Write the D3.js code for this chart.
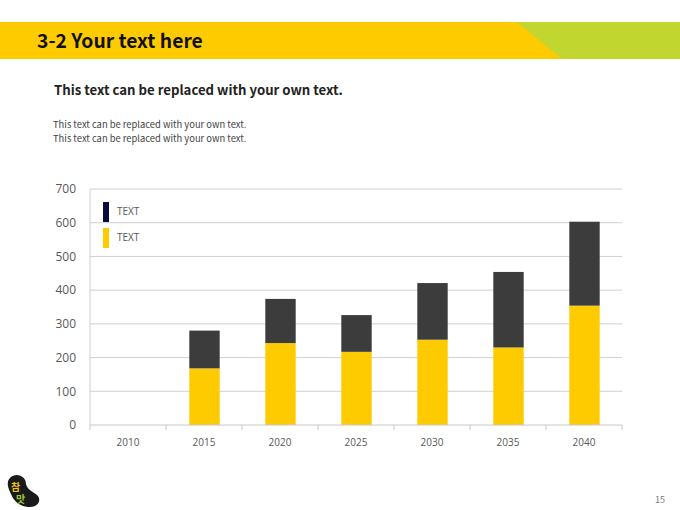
<!DOCTYPE html>
<html><head><meta charset="utf-8">
<script src="https://cdn.jsdelivr.net/npm/d3@7/dist/d3.min.js"></script>
<style>
html,body{margin:0;padding:0;background:#fff;}
svg{display:block;font-family:"Noto Sans CJK KR","Noto Sans",sans-serif;}
</style></head>
<body>
<svg id="c" width="680" height="510"></svg>
<script>
const categories = ["2010","2015","2020","2025","2030","2035","2040"];
const yellowValues = [0,168,243,217,253,230,354];
const darkValues = [0,112,131,109,168,224,249];
const seriesNames = ["TEXT","TEXT"];
const yTicks = [0,100,200,300,400,500,600,700];

const svg = d3.select("#c");

// Header banner
svg.append("rect").attr("x",0).attr("y",22).attr("width",680).attr("height",37).attr("fill","#c1d62f");
svg.append("path").attr("d","M0,22 L517,22 L562,59 L0,59 Z").attr("fill","#fecb00");
svg.append("text").attr("x",37).attr("y",48).attr("font-size",19.3).attr("font-weight","bold").attr("fill","#111").text("3-2 Your text here");

svg.append("text").attr("x",54).attr("y",95).attr("font-size",13.2).attr("font-weight","bold").attr("fill","#222").text("This text can be replaced with your own text.");
svg.append("text").attr("x",53).attr("y",128).attr("font-size",9.4).attr("fill","#444").text("This text can be replaced with your own text.");
svg.append("text").attr("x",53).attr("y",142).attr("font-size",9.4).attr("fill","#444").text("This text can be replaced with your own text.");

// Chart
const pLeft=90, pRight=622, pTop=189, pBottom=425;
const x = d3.scaleBand().domain(categories).range([pLeft,pRight]).paddingInner(0.6).paddingOuter(0.3);
const xb = d3.scaleBand().domain(categories).range([pLeft,pRight]);
const y = d3.scaleLinear().domain([0,700]).range([pBottom,pTop]);

const g = svg.append("g");
g.selectAll("line.grid").data(yTicks.filter(d=>d>0)).join("line")
  .attr("x1",pLeft).attr("x2",pRight).attr("y1",d=>y(d)).attr("y2",d=>y(d))
  .attr("stroke","#d0d0d0").attr("stroke-width",1);
g.append("line").attr("x1",pLeft).attr("x2",pLeft).attr("y1",pTop).attr("y2",pBottom).attr("stroke","#d0d0d0");

const yAxis = svg.append("g").attr("transform",`translate(${pLeft},0)`)
  .call(d3.axisLeft(y).tickValues(yTicks).tickSize(0).tickPadding(14));
yAxis.select(".domain").remove();
yAxis.selectAll("text").attr("font-size",12).attr("fill","#595959").attr("font-family","\"Open Sans\",sans-serif");

// bars
const stack = categories.map((c,i)=>({c, yl:yellowValues[i], dk:darkValues[i]}));
svg.selectAll("rect.yl").data(stack).join("rect")
  .attr("x",d=>x(d.c)+0.5).attr("width",x.bandwidth())
  .attr("y",d=>y(d.yl)).attr("height",d=>y(0)-y(d.yl)).attr("fill","#fecb00");
svg.selectAll("rect.dk").data(stack).join("rect")
  .attr("x",d=>x(d.c)+0.5).attr("width",x.bandwidth())
  .attr("y",d=>y(d.yl+d.dk)).attr("height",d=>y(d.yl)-y(d.yl+d.dk)).attr("fill","#3c3c3c");

// x axis
const xAxisG = svg.append("g").attr("transform",`translate(0,${pBottom})`);
xAxisG.append("line").attr("x1",pLeft).attr("x2",pRight).attr("stroke","#c8c8c8");
const bounds = categories.map(c=>xb(c)).concat([pRight]);
xAxisG.selectAll("line.tk").data(bounds).join("line")
  .attr("x1",d=>d).attr("x2",d=>d).attr("y1",0).attr("y2",5).attr("stroke","#c8c8c8");
xAxisG.selectAll("text").data(categories).join("text")
  .attr("x",d=>xb(d)+xb.bandwidth()/2).attr("y",21).attr("text-anchor","middle")
  .attr("font-size",10).attr("fill","#595959").attr("font-family","\"Open Sans\",sans-serif").text(d=>d);

// legend
const legendColors = ["#0b0b3b","#fecb00"];
const lg = svg.append("g");
[0,1].forEach(i=>{
  lg.append("rect").attr("x",103).attr("y",202+i*26).attr("width",6).attr("height",20).attr("fill",legendColors[i]);
  lg.append("text").attr("x",117).attr("y",215+i*26).attr("font-size",10).attr("fill","#595959")
    .attr("font-family","\"Open Sans\",sans-serif").text(seriesNames[i]);
});

// logo
const logo = svg.append("g").attr("transform","translate(6,474)");
logo.append("path").attr("d","M4,4 C10,-2 20,2 20,10 C21,16 28,18 32,22 C36,28 30,34 22,33 C14,32 8,28 5,20 C2,14 0,8 4,4 Z").attr("fill","#1a1a1a");
logo.append("text").attr("x",5).attr("y",17).attr("font-size",10).attr("font-weight","bold").attr("fill","#f2c200").text("참");
logo.append("text").attr("x",10).attr("y",29).attr("font-size",10).attr("font-weight","bold").attr("fill","#9ccc2a").text("맛");

svg.append("text").attr("x",665).attr("y",503).attr("text-anchor","end").attr("font-size",9).attr("fill","#777").text("15");
</script>
</body></html>
